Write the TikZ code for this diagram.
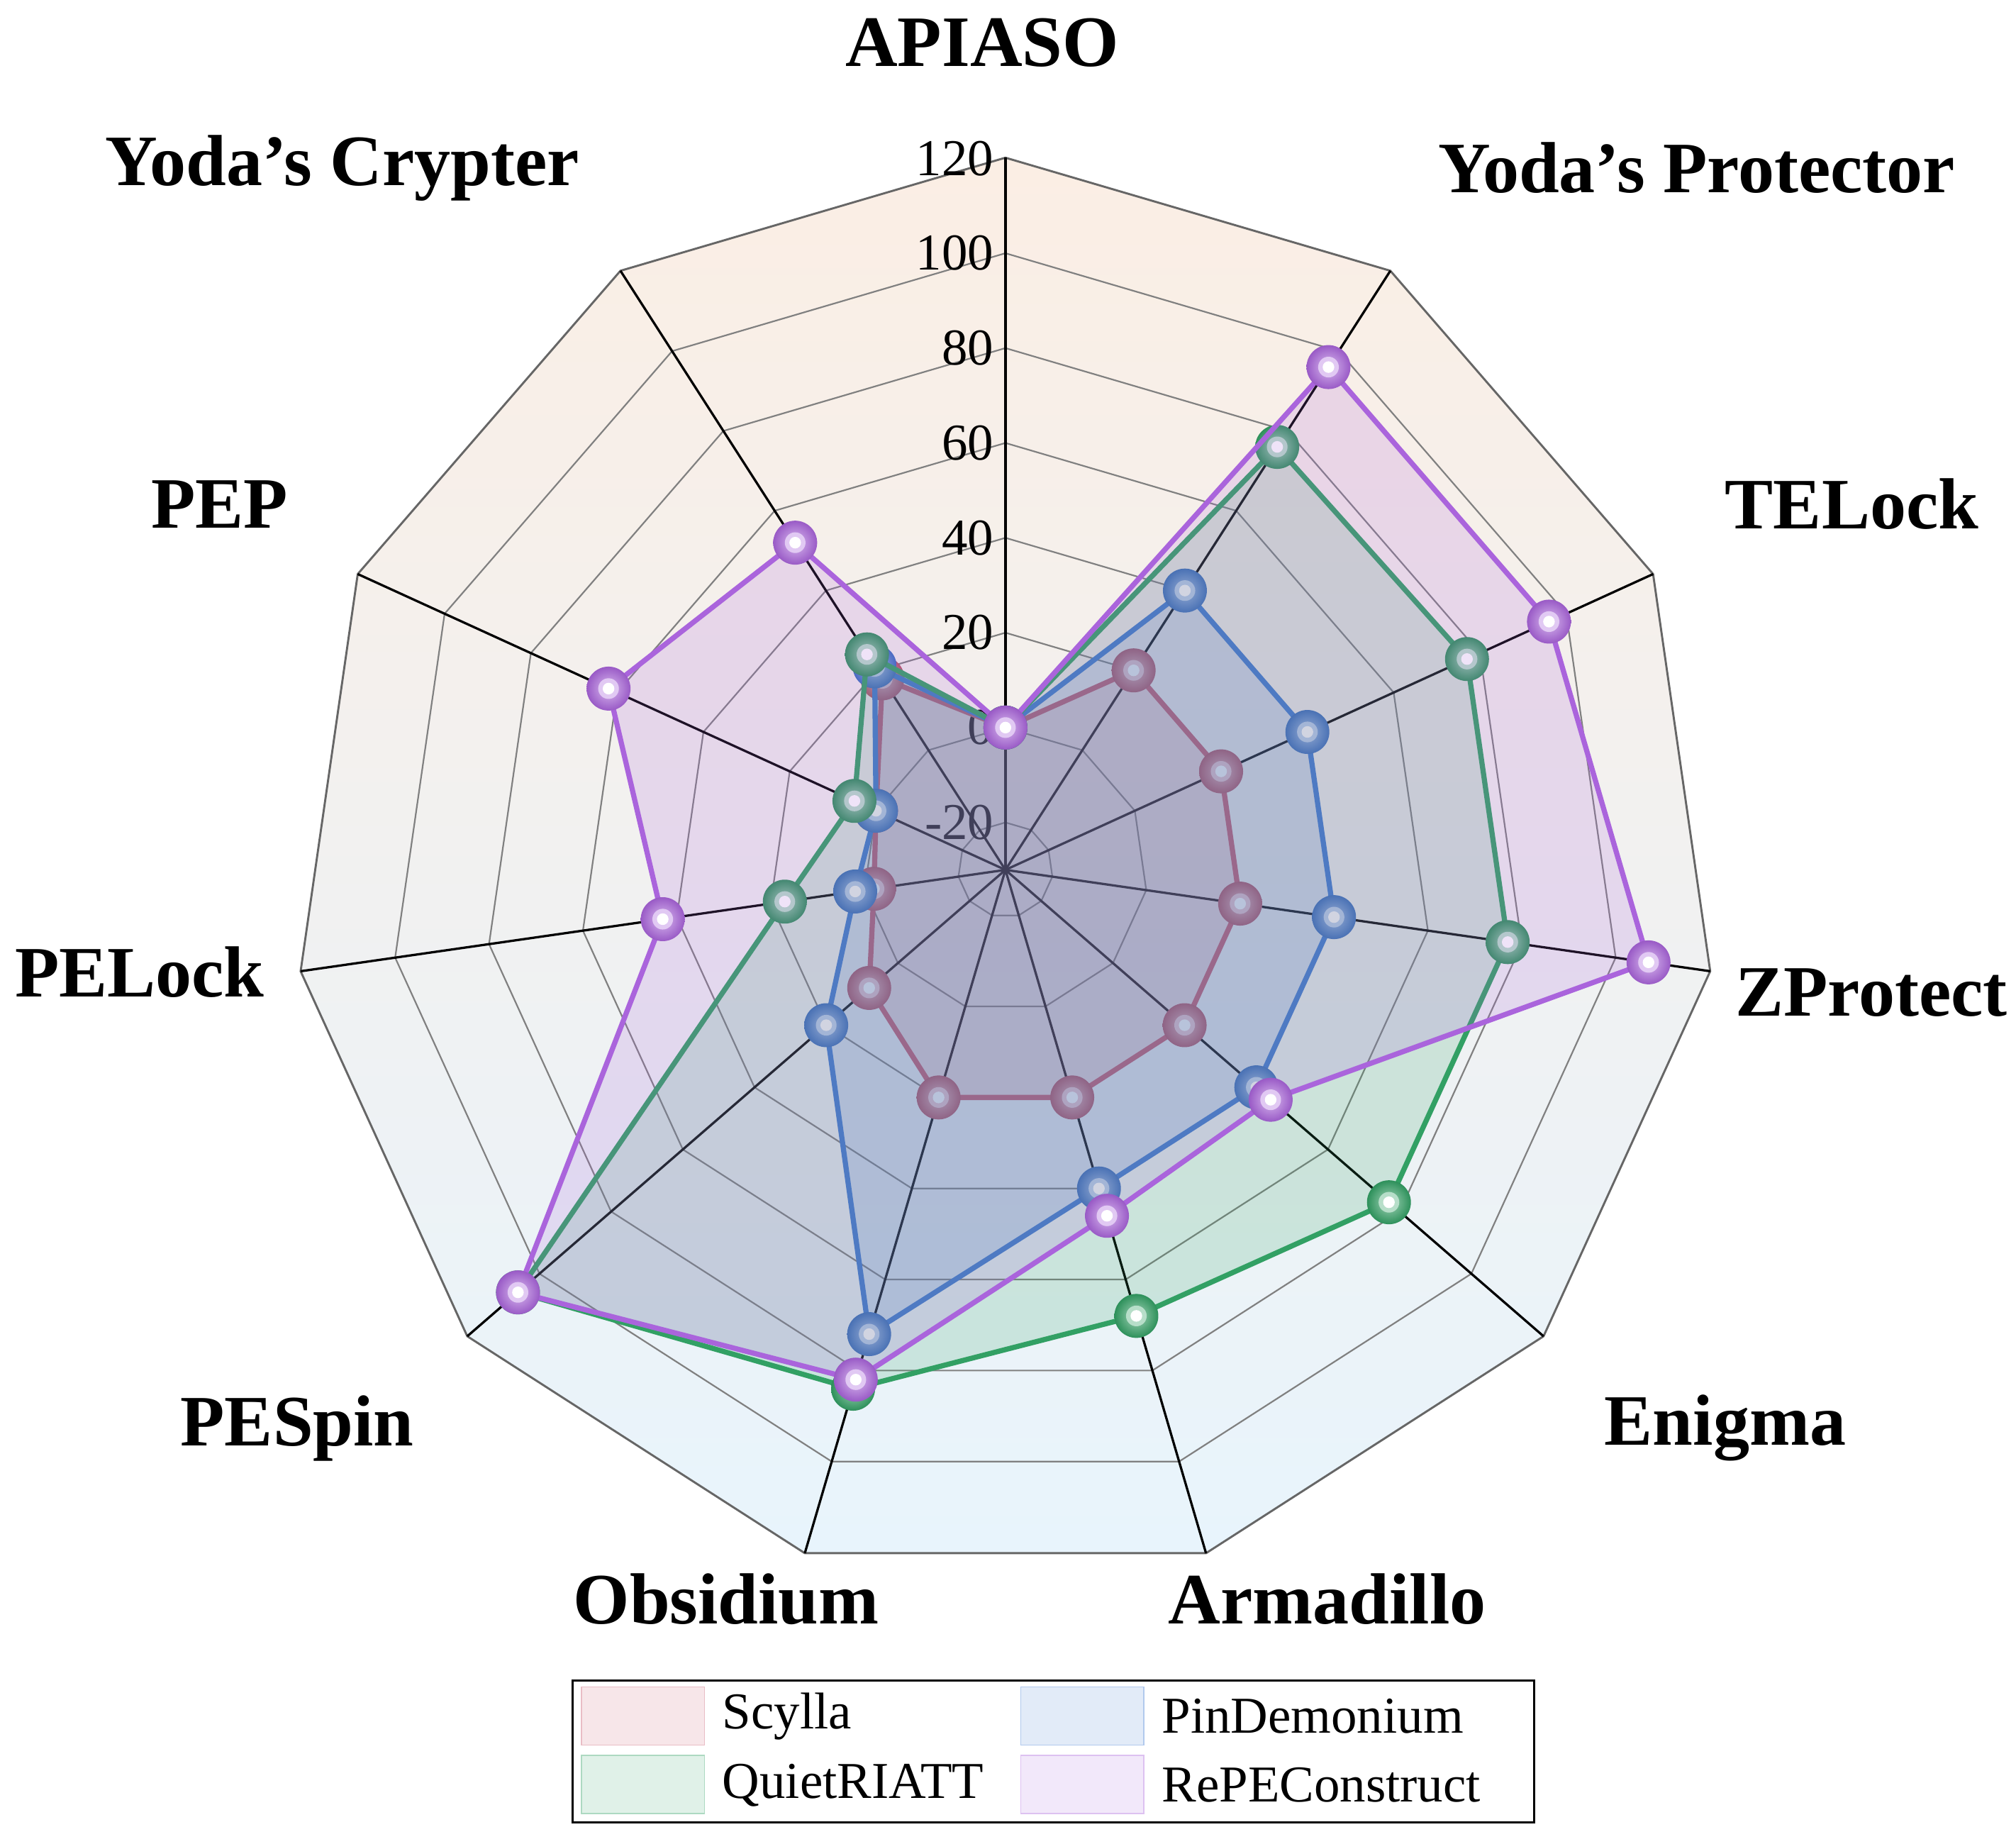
\documentclass[tikz,border=0pt]{standalone}
\usepackage{fontspec}
\setmainfont{Liberation Serif}
\definecolor{cS}{RGB}{200,90,110}
\definecolor{cP}{RGB}{60,120,210}
\definecolor{cQ}{RGB}{50,160,100}
\definecolor{cR}{RGB}{170,100,220}
\definecolor{bgT}{RGB}{251,238,228}
\definecolor{bgB}{RGB}{232,244,252}
\tikzset{cat/.style={font=\fontsize{28}{30}\selectfont\bfseries},
tick/.style={font=\fontsize{20}{22}\selectfont,anchor=east},
ser/.style={line width=2pt,draw=#1,fill=#1,fill opacity=0.18,line join=round}}
\newcommand{\series}[3]{%
\draw[ser=#1] (-90:{(#2+30)*3.67}) \foreach \v [count=\i] in {#3} {-- ({-90+\i*360/11}:{(\v+30)*3.67})} -- cycle;
\foreach \v [count=\i from 0] in {#2,#3} {
\shade[inner color=white!55!#1,outer color=#1!90!black] ({-90+\i*360/11}:{(\v+30)*3.67}) circle (17);
\fill[white!65!#1] ({-90+\i*360/11}:{(\v+30)*3.67}) circle (8);
\fill[white] ({-90+\i*360/11}:{(\v+30)*3.67}) circle (4.5);}}
\begin{document}
\begin{tikzpicture}[x=0.5pt,y=-0.5pt]
\useasboundingbox (0,0) rectangle (1560,1413);
\begin{scope}[shift={(778,673)}]
\shade[top color=bgT,bottom color=bgB] (-90:551) \foreach \i in {1,...,10} {-- ({-90+\i*360/11}:551)} -- cycle;
\foreach \r in {-20,0,...,100} {
\draw[gray,line width=0.6pt] (-90:{(\r+30)*3.67}) \foreach \i in {1,...,10} {-- ({-90+\i*360/11}:{(\r+30)*3.67})} -- cycle;}
\draw[black!60,line width=0.8pt] (-90:551) \foreach \i in {1,...,10} {-- ({-90+\i*360/11}:551)} -- cycle;
\foreach \i in {0,...,10} \draw[black,line width=0.9pt] (0,0) -- ({-90+\i*360/11}:551);
\foreach \r in {120,100,...,-20} \node[tick] at (-2,{-(\r+30)*3.67}) {\r};
\series{cS}{0}{20,20,20,20,20,20,8,-2,0,18}
\series{cP}{0}{40,40,40,40,40,72,20,2,0,21}
\series{cQ}{0}{76,77,77,77,68,84,106,17,5,24}
\series{cR}{0}{96,96,107,44,46,82,106,43,62,52}
\end{scope}
\node[cat] at (760,33) {APIASO};
\node[cat] at (1313,130) {Yoda’s Protector};
\node[cat] at (1433,390) {TELock};
\node[cat] at (1448,768) {ZProtect};
\node[cat] at (1335,1105) {Enigma};
\node[cat] at (1027,1237) {Armadillo};
\node[cat] at (562,1237) {Obsidium};
\node[cat] at (230,1105) {PESpin};
\node[cat] at (108,752) {PELock};
\node[cat] at (170,390) {PEP};
\node[cat] at (265,130) {Yoda’s Crypter};
\draw[black,line width=0.8pt,fill=white] (443,1300) rectangle (1187,1410);
\foreach \c/\t/\x/\y in {cS/Scylla/450/1305,cP/PinDemonium/790/1305,cQ/QuietRIATT/450/1358,cR/RePEConstruct/790/1358}{
\draw[\c!40,fill=\c!15] (\x,\y) rectangle ++(95,45);
\node[anchor=west,font=\fontsize{20}{22}\selectfont] at (\x+102,\y+23) {\t};}
\end{tikzpicture}
\end{document}
